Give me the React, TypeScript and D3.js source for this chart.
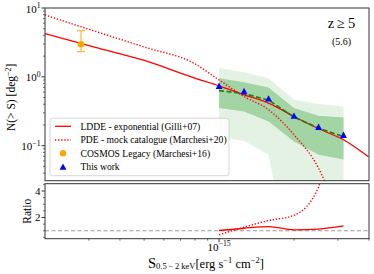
import * as d3 from "d3";
import { useEffect, useRef } from "react";

// binned fluxes, erg s^-1 cm^-2
const binFlux = [1.0e-15, 1.26e-15, 1.58e-15, 2.0e-15, 2.51e-15, 3.16e-15];
const thisWork = [0.74, 0.62, 0.485, 0.272, 0.188, 0.144];
const mockMedian = [0.63, 0.57, 0.46, 0.26, 0.18, 0.135];
const innerLo = [0.352, 0.314, 0.225, 0.115, 0.074, 0.063];
const innerHi = [0.957, 0.838, 0.7, 0.352, 0.272, 0.257];
const outerLo = [0.132, 0.118, 0.074, 0.001, 0.001, 0.001];
const outerHi = [1.36, 1.17, 0.957, 0.464, 0.402, 0.371];

// model curves
const modelFlux = [2.0e-16, 3.16e-16, 5.01e-16, 7.94e-16, 1.0e-15, 1.26e-15, 1.58e-15, 2.0e-15, 2.51e-15, 3.16e-15, 3.98e-15];
const lddeCurve = [4.25, 2.71, 1.73, 0.968, 0.741, 0.548, 0.416, 0.266, 0.176, 0.122, 0.069];
const pdeCurve = [7.92, 4.62, 2.71, 1.57, 0.9, 0.518, 0.333, 0.144, 0.047, 0.006, 0.001];

// COSMOS Legacy point
const cosmosFlux = [2.79e-16];
const cosmosN = [2.98];
const cosmosLo = [2.33];
const cosmosHi = [4.69];

// ratio panel
const ratioLdde = [1.02, 1.19, 1.31, 1.07, 1.13, 1.37];
const ratioPde = [0.69, 1.27, 1.77, 2.17, 4.3, 30];

const legendLabels = [
  "LDDE - exponential (Gilli+07)",
  "PDE - mock catalogue (Marchesi+20)",
  "COSMOS Legacy (Marchesi+16)",
  "This work",
];

const serif = "Liberation Serif";

export default function App() {
  const svgRef = useRef<SVGSVGElement>(null);

  useEffect(() => {
    if (!svgRef.current) return;
    const svg = d3.select<SVGSVGElement, unknown>(svgRef.current);
    svg.selectAll("*").remove();

    const left = 45, right = 369;
    const mainTop = 8, mainBottom = 180.7;
    const ratTop = 183.7, ratBottom = 238.7;
    const axisColor = "#333";

    svg.append("rect").attr("width", 374).attr("height", 274).attr("fill", "#fff");

    const x = d3.scaleLog().domain([2e-16, 4e-15]).range([left, right]);
    const y = d3.scaleLog().domain([0.031, 10]).range([mainBottom, mainTop]);
    const yr = d3.scaleLinear().domain([0.4, 4.55]).range([ratBottom, ratTop]);

    const defs = svg.append("defs");
    defs.append("clipPath").attr("id", "clipMain")
      .append("rect").attr("x", left).attr("y", mainTop)
      .attr("width", right - left).attr("height", mainBottom - mainTop);
    defs.append("clipPath").attr("id", "clipRat")
      .append("rect").attr("x", left).attr("y", ratTop)
      .attr("width", right - left).attr("height", ratBottom - ratTop);

    const main = svg.append("g").attr("clip-path", "url(#clipMain)");

    // shaded bands
    const idx = d3.range(binFlux.length);
    const area = (lo: number[], hi: number[]) =>
      d3.area<number>()
        .x((i) => x(binFlux[i]))
        .y0((i) => y(lo[i]))
        .y1((i) => y(hi[i]))(idx);
    main.append("path").attr("d", area(outerLo, outerHi)).attr("fill", "#e4f2e4");
    main.append("path").attr("d", area(innerLo, innerHi)).attr("fill", "#a3d4a3");

    // models
    const modelLine = (vals: number[]) =>
      d3.line<number>()
        .x((i) => x(modelFlux[i]))
        .y((i) => y(vals[i]))
        .curve(d3.curveMonotoneX)(d3.range(modelFlux.length));
    main.append("path").attr("d", modelLine(lddeCurve))
      .attr("fill", "none").attr("stroke", "#ff0000").attr("stroke-width", 1.3);
    main.append("path").attr("d", modelLine(pdeCurve))
      .attr("fill", "none").attr("stroke", "#ff0000").attr("stroke-width", 1.4)
      .attr("stroke-dasharray", "1.3,1.8");

    // median of mock
    main.append("path")
      .attr("d", d3.line<number>().x((i) => x(binFlux[i])).y((i) => y(mockMedian[i]))(idx))
      .attr("fill", "none").attr("stroke", "#1a7f1a").attr("stroke-width", 1.6)
      .attr("stroke-dasharray", "5,2.5");

    // COSMOS point
    cosmosFlux.forEach((f, i) => {
      const cx = x(f);
      main.append("line").attr("x1", cx).attr("x2", cx)
        .attr("y1", y(cosmosLo[i])).attr("y2", y(cosmosHi[i]))
        .attr("stroke", "#ffb733").attr("stroke-width", 1.2);
      [cosmosLo[i], cosmosHi[i]].forEach((v) => {
        main.append("line").attr("x1", cx - 4).attr("x2", cx + 4)
          .attr("y1", y(v)).attr("y2", y(v))
          .attr("stroke", "#ffb733").attr("stroke-width", 1.2);
      });
      main.append("circle").attr("cx", cx).attr("cy", y(cosmosN[i]))
        .attr("r", 3.3).attr("fill", "#ffa500");
    });

    // triangles
    const tri = "M0,-3.3L3.4,3.1L-3.4,3.1Z";
    main.selectAll("path.tri").data(idx).enter().append("path")
      .attr("class", "tri")
      .attr("d", tri)
      .attr("transform", (i) => `translate(${x(binFlux[i])},${y(thisWork[i])})`)
      .attr("fill", "#0000ff");

    // ratio panel
    const rat = svg.append("g").attr("clip-path", "url(#clipRat)");
    rat.append("line").attr("x1", left).attr("x2", right)
      .attr("y1", yr(1)).attr("y2", yr(1))
      .attr("stroke", "#999").attr("stroke-width", 1.1).attr("stroke-dasharray", "4,2.5");
    const ratLine = (vals: number[]) =>
      d3.line<number>().x((i) => x(binFlux[i])).y((i) => yr(vals[i]))
        .curve(d3.curveMonotoneX)(idx);
    rat.append("path").attr("d", ratLine(ratioLdde))
      .attr("fill", "none").attr("stroke", "#ff0000").attr("stroke-width", 1.3);
    rat.append("path").attr("d", ratLine(ratioPde))
      .attr("fill", "none").attr("stroke", "#ff0000").attr("stroke-width", 1.4)
      .attr("stroke-dasharray", "1.3,1.8");

    // frames
    [[mainTop, mainBottom], [ratTop, ratBottom]].forEach(([t, b]) => {
      svg.append("rect").attr("x", left).attr("y", t)
        .attr("width", right - left).attr("height", b - t)
        .attr("fill", "none").attr("stroke", axisColor).attr("stroke-width", 1);
    });

    const sup = (g: d3.Selection<SVGGElement, unknown, null, undefined>, px: number, py: number,
      base: string, exp: string, anchor: string, size: number) => {
      const t = g.append("text").attr("x", px).attr("y", py)
        .attr("text-anchor", anchor).attr("font-family", serif)
        .attr("font-size", size).attr("fill", "#000");
      t.append("tspan").text(base);
      t.append("tspan").attr("dy", -size * 0.42).attr("font-size", size * 0.7).text(exp);
      return t;
    };

    const ticks = svg.append("g");
    // main y ticks
    [0.1, 1, 10].forEach((v, i) => {
      const py = y(v);
      ticks.append("line").attr("x1", left - 3.5).attr("x2", left)
        .attr("y1", py).attr("y2", py).attr("stroke", axisColor);
      sup(ticks, left - 4.5, py + 4.5, "10", ["\u22121", "0", "1"][i], "end", 11);
    });
    for (let d = -2; d <= 0; d++) {
      for (let k = 2; k <= 9; k++) {
        const v = k * Math.pow(10, d);
        if (v < 0.031 || v > 10) continue;
        ticks.append("line").attr("x1", left - 2).attr("x2", left)
          .attr("y1", y(v)).attr("y2", y(v)).attr("stroke", axisColor).attr("stroke-width", 0.7);
      }
    }
    // ratio y ticks
    [2, 4].forEach((v) => {
      ticks.append("line").attr("x1", left - 3.5).attr("x2", left)
        .attr("y1", yr(v)).attr("y2", yr(v)).attr("stroke", axisColor);
      ticks.append("text").attr("x", left - 4.5).attr("y", yr(v) + 3.8)
        .attr("text-anchor", "end").attr("font-family", serif).attr("font-size", 11)
        .text(String(v));
    });
    d3.range(0.5, 4.51, 0.5).forEach((v) => {
      if (v === 2 || v === 4) return;
      ticks.append("line").attr("x1", left - 2).attr("x2", left)
        .attr("y1", yr(v)).attr("y2", yr(v)).attr("stroke", axisColor).attr("stroke-width", 0.7);
    });
    // x ticks
    ticks.append("line").attr("x1", x(1e-15)).attr("x2", x(1e-15))
      .attr("y1", ratBottom).attr("y2", ratBottom + 3.5).attr("stroke", axisColor);
    sup(ticks, x(1e-15), 251, "10", "\u221215", "middle", 11);
    [3e-16, 4e-16, 5e-16, 6e-16, 7e-16, 8e-16, 9e-16, 2e-15, 3e-15, 4e-15].forEach((v) => {
      ticks.append("line").attr("x1", x(v)).attr("x2", x(v))
        .attr("y1", ratBottom).attr("y2", ratBottom + 2).attr("stroke", axisColor).attr("stroke-width", 0.7);
    });

    // axis labels
    const xl = svg.append("text").attr("x", (left + right) / 2 - 1).attr("y", 267.5)
      .attr("text-anchor", "middle").attr("font-family", serif).attr("font-size", 12.5);
    xl.append("tspan").attr("font-size", 14.5).text("S");
    xl.append("tspan").attr("font-size", 8.5).attr("dy", 1.5).text("0.5\u2009\u2212\u20092 keV");
    xl.append("tspan").attr("dy", -1.5).text("[erg s");
    xl.append("tspan").attr("font-size", 8.5).attr("dy", -5).text("\u22121");
    xl.append("tspan").attr("dy", 5).text(" cm");
    xl.append("tspan").attr("font-size", 8.5).attr("dy", -5).text("\u22122");
    xl.append("tspan").attr("dy", 5).text("]");

    const yl = svg.append("text")
      .attr("transform", `translate(15,${(mainTop + mainBottom) / 2 + 3}) rotate(-90)`)
      .attr("text-anchor", "middle").attr("font-family", serif).attr("font-size", 11.5);
    yl.append("tspan").text("N(> S) [deg");
    yl.append("tspan").attr("font-size", 8).attr("dy", -4.5).text("\u22122");
    yl.append("tspan").attr("dy", 4.5).text("]");

    svg.append("text")
      .attr("transform", `translate(31,${(ratTop + ratBottom) / 2}) rotate(-90)`)
      .attr("text-anchor", "middle").attr("font-family", serif).attr("font-size", 11.5)
      .text("Ratio");

    // annotation
    svg.append("text").attr("x", 341.5).attr("y", 28.3)
      .attr("text-anchor", "middle").attr("font-family", serif).attr("font-size", 14.5)
      .text("z\u2009\u2265\u20095");
    svg.append("text").attr("x", 341.5).attr("y", 44.5)
      .attr("text-anchor", "middle").attr("font-family", serif).attr("font-size", 10)
      .text("(5.6)");

    // legend
    const lg = svg.append("g");
    lg.append("rect").attr("x", 50).attr("y", 118.3).attr("width", 179).attr("height", 57.4)
      .attr("rx", 2.5).attr("fill", "#fff").attr("fill-opacity", 0.8)
      .attr("stroke", "#ccc").attr("stroke-width", 0.8);
    const rowY = [126.3, 140, 153.3, 166.7];
    lg.append("line").attr("x1", 55).attr("x2", 71).attr("y1", rowY[0]).attr("y2", rowY[0])
      .attr("stroke", "#ff0000").attr("stroke-width", 1.3);
    lg.append("line").attr("x1", 55).attr("x2", 71).attr("y1", rowY[1]).attr("y2", rowY[1])
      .attr("stroke", "#ff0000").attr("stroke-width", 1.4).attr("stroke-dasharray", "1.3,1.8");
    lg.append("circle").attr("cx", 63).attr("cy", rowY[2]).attr("r", 3.2).attr("fill", "#ffa500");
    lg.append("path").attr("d", tri).attr("transform", `translate(63,${rowY[3]})`).attr("fill", "#0000ff");
    legendLabels.forEach((lab, i) => {
      lg.append("text").attr("x", 80.5).attr("y", rowY[i] + 3.3)
        .attr("font-family", serif).attr("font-size", 9.6).attr("fill", "#000").text(lab);
    });
  }, []);

  return (
    <svg
      ref={svgRef}
      width={374}
      height={274}
      style={{ position: "absolute", left: 0, top: 0, display: "block" }}
    ></svg>
  );
}
